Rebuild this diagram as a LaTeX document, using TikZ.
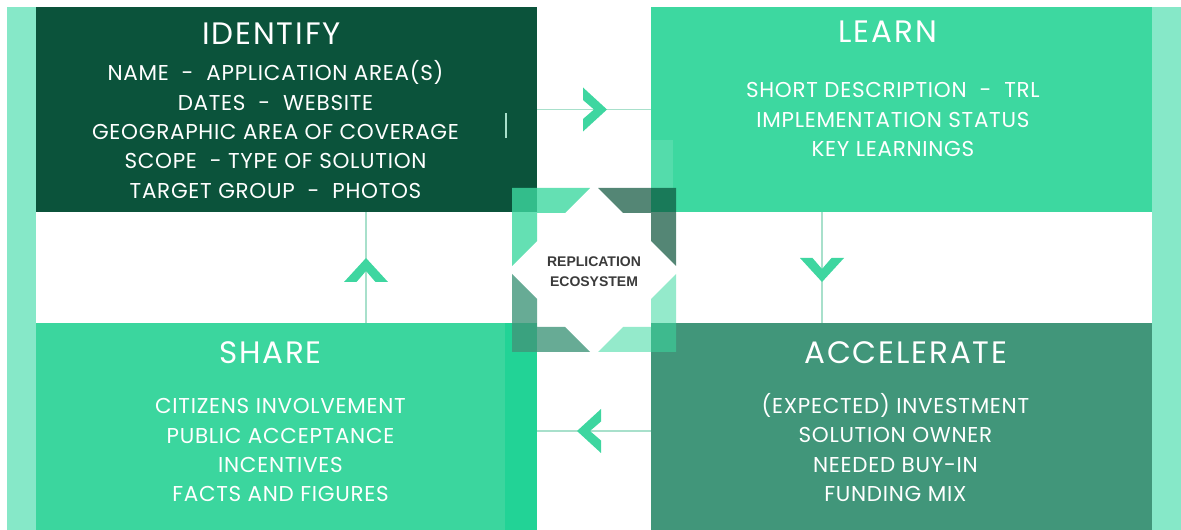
\documentclass[tikz,border=0pt]{standalone}
\usepackage{fontspec}
\setmainfont{Poppins}
\newfontfamily\hubfont{Liberation Sans}
\usetikzlibrary{positioning}

\definecolor{identifygreen}{HTML}{0B533B}
\definecolor{learngreen}{HTML}{3DD8A0}
\definecolor{sharegreen}{HTML}{3BD69E}
\definecolor{sharestrip}{HTML}{22D396}
\definecolor{accelgreen}{HTML}{41967A}
\definecolor{sidegreen}{HTML}{86E8C8}
\definecolor{linegreen}{HTML}{A8E0CB}
\definecolor{chevrongreen}{HTML}{3ED6A0}
\definecolor{hubgrey}{HTML}{3A3A3A}

\begin{document}
\begin{tikzpicture}[
    x=1pt, y=1pt,
    node distance=114pt,
    phase/.style={inner sep=0pt, minimum width=501pt, minimum height=205pt},
    heading/.style={text=white, anchor=base, inner sep=0pt,
        font=\fontsize{31}{36}\selectfont\addfontfeature{LetterSpace=6}},
    items/.style={text=white, align=center, inner sep=0pt,
        font=\fontsize{21.5}{29.3}\selectfont\addfontfeature{LetterSpace=3.3}},
    hub/.style={text=hubgrey, align=center, inner sep=0pt, font=\hubfont\bfseries\fontsize{14}{20}\selectfont},
    link/.style={draw=linegreen, line width=1.4pt},
    chevron/.pic={\fill[chevrongreen] (12,0) -- (-12,22) -- (-12,9.5) -- (-1,0) -- (-12,-9.5) -- (-12,-22) -- cycle;},
    corner/.pic={\fill (-82,82) -- (-4,82) -- (-29,57) -- (-57,57) -- (-57,29) -- (-82,4) -- cycle;}
]
\useasboundingbox (0,0) rectangle (1181,530);

% Phase boxes
\node[phase, fill=identifygreen] (identify) at (286.5,420.5) {};
\node[phase, fill=learngreen, right=of identify] (learn) {};
\node[phase, fill=sharegreen, minimum height=207pt, below=111pt of identify] (share) {};
\node[phase, fill=accelgreen, minimum height=207pt, right=of share] (accelerate) {};

% Side bands and strips
\fill[sidegreen] (7,0) rectangle (36,523);
\fill[sidegreen] (1152,0) rectangle (1181,523);
\fill[sharestrip] ([xshift=-32pt]share.north east) rectangle (share.south east);
\fill[white, fill opacity=0.12] (651,342) rectangle (673,390);

% Replication ecosystem frame
\coordinate (hubc) at (594,260);
\pic[fill=learngreen, fill opacity=0.8] at (hubc) {corner};
\pic[rotate=-90, fill=identifygreen, fill opacity=0.7] at (hubc) {corner};
\pic[rotate=180, fill=learngreen, fill opacity=0.55] at (hubc) {corner};
\pic[rotate=90, fill=accelgreen, fill opacity=0.8] at (hubc) {corner};
\node[hub] (hub) at (594,258) {REPLICATION\\ECOSYSTEM};

% Cycle arrows
\coordinate (rtarrow) at (595,420.5);
\coordinate (dnarrow) at (822,260);
\coordinate (lfarrow) at (589,99);
\coordinate (uparrow) at (366,260);

\draw[link] (identify.east) -- (learn.west);
\draw[link] (learn.south -| dnarrow) -- (accelerate.north -| dnarrow);
\draw[link] (accelerate.west |- lfarrow) -- (share.east |- lfarrow);
\draw[link] (share.north -| uparrow) -- (identify.south -| uparrow);

\pic at (rtarrow) {chevron};
\pic[rotate=-90] at (dnarrow) {chevron};
\pic[rotate=180] at (lfarrow) {chevron};
\pic[rotate=90] at (uparrow) {chevron};

\draw[linegreen, line width=1.5pt] (506,392) -- (506,417);

% Titles
\node[heading] (identifyhead) at ([xshift=-15pt,yshift=-38pt]identify.north) {IDENTIFY};
\node[heading] (learnhead) at ([xshift=-14pt,yshift=-36pt]learn.north) {LEARN};
\node[heading] (sharehead) at ([xshift=-16pt,yshift=-40pt]share.north) {SHARE};
\node[heading] (accelhead) at ([xshift=4pt,yshift=-40pt]accelerate.north) {ACCELERATE};

% Items
\node[items] (identifyitems) at ([xshift=-11pt,yshift=-20pt]identify.center)
    {NAME~~-~~APPLICATION AREA(S)\\DATES~~-~~WEBSITE\\GEOGRAPHIC AREA OF COVERAGE\\SCOPE~~- TYPE OF SOLUTION\\TARGET GROUP~~-~~PHOTOS};
\node[items] (learnitems) at ([xshift=-9pt,yshift=-10pt]learn.center)
    {SHORT DESCRIPTION~~-~~TRL\\IMPLEMENTATION STATUS\\KEY LEARNINGS};
\node[items] (shareitems) at ([xshift=-6pt,yshift=-23.5pt]share.center)
    {CITIZENS INVOLVEMENT\\PUBLIC ACCEPTANCE\\INCENTIVES\\FACTS AND FIGURES};
\node[items] (accelitems) at ([xshift=-6.5pt,yshift=-20.5pt]accelerate.center)
    {(EXPECTED) INVESTMENT\\SOLUTION OWNER\\NEEDED BUY-IN\\FUNDING MIX};

\end{tikzpicture}
\end{document}
